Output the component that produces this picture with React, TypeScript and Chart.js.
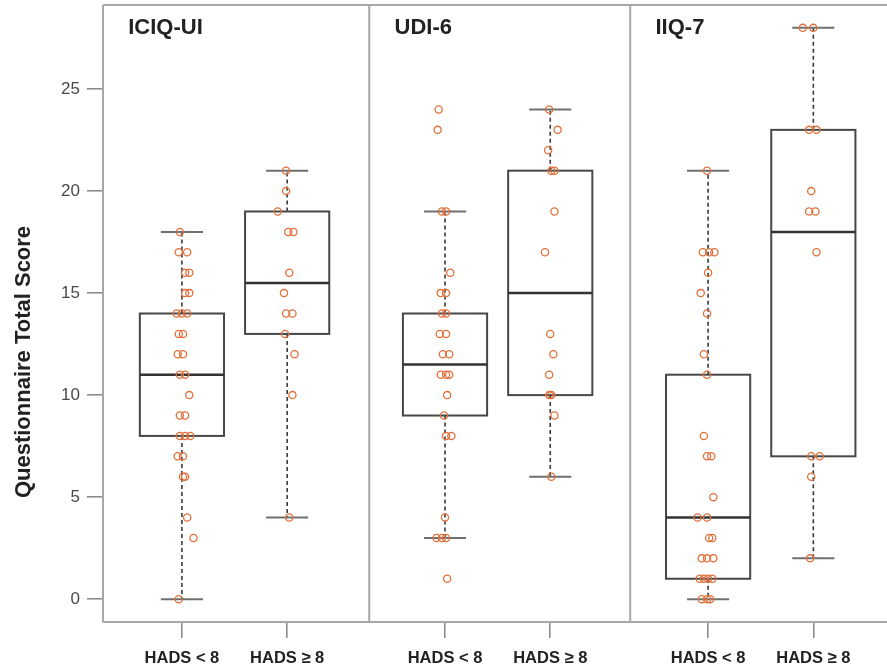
import React, { useEffect, useRef } from "react";
import { Chart, registerables } from "chart.js";

Chart.register(...registerables);

// ---------- data ----------
const panelTitles = ["ICIQ-UI", "UDI-6", "IIQ-7"];
const panelLeftEdges = [0.25, 2.78, 5.26];
const groupLabels = ["HADS < 8", "HADS ≥ 8", "HADS < 8", "HADS ≥ 8", "HADS < 8", "HADS ≥ 8"];
const groupPositions = [1, 2, 3.5, 4.5, 6, 7];
const yTickValues = [0, 5, 10, 15, 20, 25];
const yAxisTitle = "Questionnaire Total Score";

// five-number summaries per group (whisker low, Q1, median, Q3, whisker high)
const boxMin = [0, 4, 3, 6, 0, 2];
const boxQ1 = [8, 13, 9, 10, 1, 7];
const boxMedian = [11, 15.5, 11.5, 15, 4, 18];
const boxQ3 = [14, 19, 14, 21, 11, 23];
const boxMax = [18, 21, 19, 24, 21, 28];

// individual scores and their horizontal jitter (category units)
const iciqLowScores = [18, 17, 17, 16, 16, 15, 15, 14, 14, 14, 13, 13, 12, 12, 11, 11, 10, 9, 9, 8, 8, 8, 7, 7, 6, 6, 4, 3, 0];
const iciqLowJitter = [-0.02, -0.03, 0.05, 0.03, 0.07, 0.03, 0.07, -0.05, 0, 0.05, -0.03, 0.01, -0.04, 0.01, -0.02, 0.03, 0.07, -0.02, 0.03, -0.02, 0.03, 0.08, -0.04, 0.01, 0.01, 0.03, 0.05, 0.11, -0.03];
const iciqHighScores = [21, 20, 19, 18, 18, 16, 15, 14, 14, 13, 12, 10, 4];
const iciqHighJitter = [-0.01, -0.01, -0.09, 0.01, 0.06, 0.02, -0.03, -0.01, 0.05, -0.02, 0.07, 0.05, 0.02];
const udiLowScores = [24, 23, 19, 19, 16, 15, 15, 14, 14, 13, 13, 12, 12, 11, 11, 11, 10, 9, 8, 8, 4, 3, 3, 3, 1];
const udiLowJitter = [-0.06, -0.07, -0.03, 0.01, 0.05, -0.04, 0.01, -0.03, 0.01, -0.05, 0.01, -0.02, 0.04, -0.04, 0.01, 0.04, 0.02, -0.01, 0.01, 0.06, 0, -0.08, -0.03, 0.01, 0.02];
const udiHighScores = [24, 23, 22, 21, 21, 19, 17, 13, 12, 11, 10, 10, 9, 6];
const udiHighJitter = [-0.01, 0.07, -0.02, 0.01, 0.04, 0.04, -0.05, 0, 0.03, -0.01, -0.01, 0.01, 0.04, 0.01];
const iiqLowScores = [21, 17, 17, 17, 16, 15, 14, 12, 11, 8, 7, 7, 5, 4, 4, 3, 3, 2, 2, 2, 1, 1, 1, 1, 0, 0, 0];
const iiqLowJitter = [-0.01, -0.05, 0.01, 0.06, 0, -0.07, -0.01, -0.04, -0.01, -0.04, -0.01, 0.03, 0.05, -0.1, -0.01, 0.01, 0.04, -0.06, -0.01, 0.05, -0.08, -0.04, 0, 0.04, -0.06, -0.01, 0.02];
const iiqHighScores = [28, 28, 23, 23, 20, 19, 19, 17, 7, 7, 6, 2];
const iiqHighJitter = [-0.1, 0, -0.04, 0.03, -0.02, -0.04, 0.02, 0.03, -0.02, 0.06, -0.02, -0.03];

const groupScores = [iciqLowScores, iciqHighScores, udiLowScores, udiHighScores, iiqLowScores, iiqHighScores];
const groupJitter = [iciqLowJitter, iciqHighJitter, udiLowJitter, udiHighJitter, iiqLowJitter, iiqHighJitter];

// ---------- styling ----------
const FONT = '"Liberation Sans", Arial, Helvetica, sans-serif';
const POINT_COLOR = "#e2703a";
const FRAME_COLOR = "#a8a8a8";
const BOX_COLOR = "#474747";

const boxPlugin = {
  id: "boxplots",
  beforeDatasetsDraw(chart: any) {
    const { ctx, chartArea: a, scales } = chart;
    const x = scales.x;
    const y = scales.y;
    ctx.save();
    // frame and panel dividers
    ctx.strokeStyle = FRAME_COLOR;
    ctx.lineWidth = 2;
    ctx.beginPath();
    ctx.moveTo(a.left, a.top);
    ctx.lineTo(a.right, a.top);
    ctx.moveTo(a.left, a.bottom);
    ctx.lineTo(a.right, a.bottom);
    panelLeftEdges.forEach((e) => {
      const px = Math.max(x.getPixelForValue(e), a.left);
      ctx.moveTo(px, a.top);
      ctx.lineTo(px, a.bottom);
    });
    ctx.stroke();

    groupPositions.forEach((p, i) => {
      const c = x.getPixelForValue(p);
      const l = x.getPixelForValue(p - 0.4);
      const r = x.getPixelForValue(p + 0.4);
      const cl = x.getPixelForValue(p - 0.2);
      const cr = x.getPixelForValue(p + 0.2);
      const yMin = y.getPixelForValue(boxMin[i]);
      const yQ1 = y.getPixelForValue(boxQ1[i]);
      const yMed = y.getPixelForValue(boxMedian[i]);
      const yQ3 = y.getPixelForValue(boxQ3[i]);
      const yMax = y.getPixelForValue(boxMax[i]);

      // whiskers
      ctx.setLineDash([4, 3]);
      ctx.lineWidth = 1.6;
      ctx.strokeStyle = "#3a3a3a";
      ctx.beginPath();
      ctx.moveTo(c, yQ3);
      ctx.lineTo(c, yMax);
      ctx.moveTo(c, yQ1);
      ctx.lineTo(c, yMin);
      ctx.stroke();
      ctx.setLineDash([]);

      // caps
      ctx.strokeStyle = "#707070";
      ctx.lineWidth = 2;
      ctx.beginPath();
      ctx.moveTo(cl, yMax);
      ctx.lineTo(cr, yMax);
      ctx.moveTo(cl, yMin);
      ctx.lineTo(cr, yMin);
      ctx.stroke();

      // box
      ctx.strokeStyle = BOX_COLOR;
      ctx.lineWidth = 2;
      ctx.strokeRect(l, yQ3, r - l, yQ1 - yQ3);

      // median
      ctx.strokeStyle = "#333333";
      ctx.lineWidth = 2.5;
      ctx.beginPath();
      ctx.moveTo(l, yMed);
      ctx.lineTo(r, yMed);
      ctx.stroke();
    });
    ctx.restore();
  },
  afterDatasetsDraw(chart: any) {
    const { ctx, chartArea: a, scales } = chart;
    const x = scales.x;
    ctx.save();
    ctx.fillStyle = "#222222";
    ctx.font = `bold 22px ${FONT}`;
    ctx.textAlign = "left";
    ctx.textBaseline = "middle";
    panelTitles.forEach((t, k) => {
      ctx.fillText(t, x.getPixelForValue(panelLeftEdges[k] + 0.24), a.top + 23);
    });
    // y-axis title
    ctx.translate(24, a.top + 357);
    ctx.rotate(-Math.PI / 2);
    ctx.textAlign = "center";
    ctx.fillText(yAxisTitle, 0, 0);
    ctx.restore();
  },
};

export default function App() {
  const ref = useRef<HTMLCanvasElement>(null);

  useEffect(() => {
    const canvas = ref.current;
    if (!canvas) return;
    const datasets = groupPositions.map((p, i) => ({
      label: groupLabels[i],
      data: groupScores[i].map((v, j) => ({ x: p + groupJitter[i][j], y: v })),
      showLine: false,
      pointStyle: "circle" as const,
      pointRadius: 3.6,
      pointBorderWidth: 1.3,
      pointBorderColor: POINT_COLOR,
      pointBackgroundColor: "rgba(0,0,0,0)",
    }));

    const chart = new Chart(canvas, {
      type: "scatter",
      data: { datasets },
      plugins: [boxPlugin],
      options: {
        animation: false,
        responsive: false,
        devicePixelRatio: 1,
        layout: { padding: { top: 5, left: 0, right: 0, bottom: 0 }, autoPadding: false },
        plugins: {
          legend: { display: false },
          tooltip: { enabled: false },
        },
        scales: {
          x: {
            type: "linear",
            min: 0.25,
            max: 7.7,
            afterBuildTicks: (s: any) => {
              s.ticks = groupPositions.map((v) => ({ value: v }));
            },
            afterFit: (s: any) => {
              s.height = 45;
              s.paddingLeft = 0;
              s.paddingRight = 0;
            },
            ticks: {
              autoSkip: false,
              maxRotation: 0,
              minRotation: 0,
              padding: 11,
              color: "#222222",
              font: { family: FONT, size: 16.5, weight: "bold" },
              callback: (_v: any, idx: number) => groupLabels[idx],
            },
            grid: {
              display: true,
              drawOnChartArea: false,
              drawTicks: true,
              tickLength: 16,
              color: "#8c8c8c",
              lineWidth: 1.6,
            },
            border: { display: false },
          },
          y: {
            type: "linear",
            min: -1.12,
            max: 29.12,
            afterBuildTicks: (s: any) => {
              s.ticks = yTickValues.map((v) => ({ value: v }));
            },
            afterFit: (s: any) => {
              s.width = 103;
              s.paddingTop = 0;
              s.paddingBottom = 0;
            },
            ticks: {
              padding: 7,
              color: "#4a4a4a",
              font: { family: FONT, size: 17 },
              callback: (v: any) => String(v),
            },
            grid: {
              display: true,
              drawOnChartArea: false,
              drawTicks: true,
              tickLength: 16,
              color: "#8c8c8c",
              lineWidth: 1.6,
            },
            border: { display: false },
          },
        },
      },
    });
    return () => chart.destroy();
  }, []);

  return (
    <div style={{ position: "absolute", left: 0, top: 0, width: 887, height: 667, background: "#ffffff" }}>
      <canvas ref={ref} width={887} height={667} style={{ display: "block", width: 887, height: 667 }} />
    </div>
  );
}
